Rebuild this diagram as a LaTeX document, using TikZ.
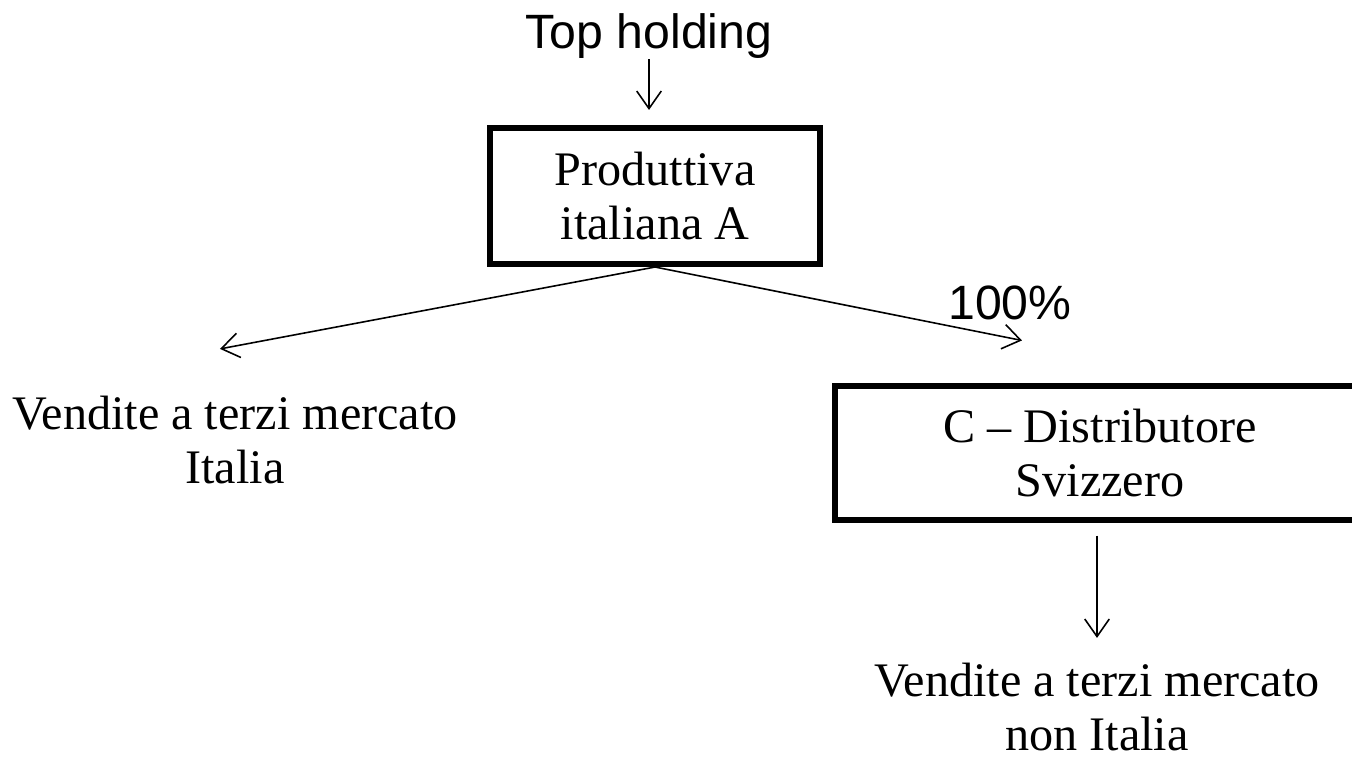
\documentclass[tikz,border=0pt]{standalone}
\usepackage{fontspec}
\setmainfont{Liberation Serif}
\newfontfamily\arialfont{Liberation Sans}
\usetikzlibrary{arrows.meta}
\begin{document}
\begin{tikzpicture}[x=0.01cm,y=-0.01cm,
	societa/.style={draw,line width=1.7pt,align=center,font=\fontsize{13.7}{15.6}\selectfont},
	testo/.style={align=center,inner sep=0pt,font=\fontsize{13.7}{15.6}\selectfont},
	freccia/.style={line width=0.45pt,-{Straight Barb[length=5pt,width=7pt]}}]
	\useasboundingbox (0,0) rectangle (1352,760);
	
	\node[testo,font=\arialfont\fontsize{13.7}{15.6}\selectfont] (top) at (649,36) {Top holding};
	\node[societa,minimum width=3.3cm,minimum height=1.36cm] (A) at (655,196) {Produttiva\\italiana A};
	\node[societa,minimum width=5.3cm,minimum height=1.33cm] (C) at (1100,453) {C -- Distributore\\Svizzero};
	\node[testo] (L) at (235,440) {Vendite a terzi mercato\\Italia};
	\node[testo] (R) at (1097,707) {Vendite a terzi mercato\\non Italia};
	\node[testo,font=\arialfont\fontsize{13.7}{15.6}\selectfont] (perc) at (1010,303) {100\%};
	
	\draw[freccia,shorten >=0.15cm] (top.south) -- (top.south |- A.north);
	\draw[freccia] (A.south) -- ([xshift=-1.5mm,yshift=4.6mm]L.north);
	\draw[freccia] (A.south) -- ([xshift=-7.8mm,yshift=4.3mm]C.north);
	\draw[freccia,shorten <=0.13cm,shorten >=0.24cm] (C.south -| R.north) -- (R.north);
\end{tikzpicture}
\end{document}
